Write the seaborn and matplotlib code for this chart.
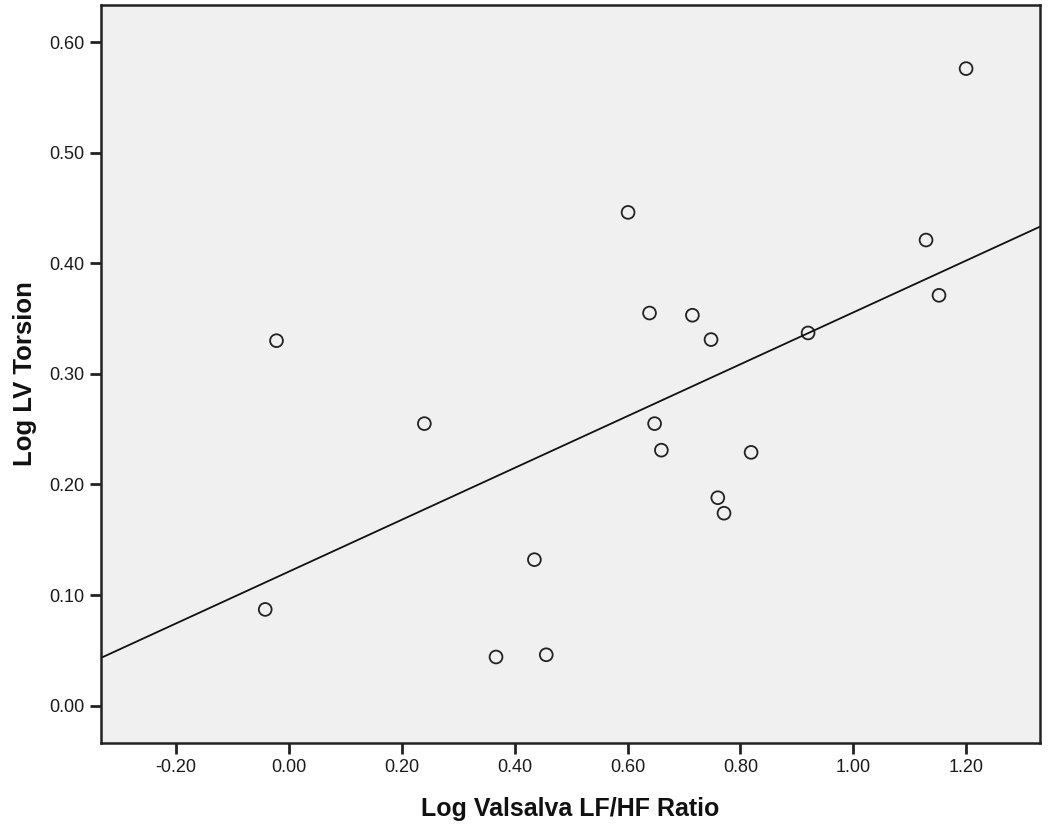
import matplotlib
matplotlib.use('Agg')
import matplotlib.pyplot as plt
import pandas as pd
import seaborn as sns
from matplotlib.ticker import FormatStrFormatter, MultipleLocator

# Data
log_valsalva_lfhf = [-0.042, -0.022, 0.240, 0.367, 0.456, 0.435, 0.601, 0.639, 0.648, 0.660,
                     0.715, 0.748, 0.760, 0.771, 0.819, 0.920, 1.129, 1.152, 1.200]
log_lv_torsion = [0.087, 0.330, 0.255, 0.044, 0.046, 0.132, 0.446, 0.355, 0.255, 0.231,
                  0.353, 0.331, 0.188, 0.174, 0.229, 0.337, 0.421, 0.371, 0.576]

df = pd.DataFrame({'x': log_valsalva_lfhf, 'y': log_lv_torsion})

sns.set_style('ticks')
plt.rcParams['font.family'] = ['Liberation Sans', 'DejaVu Sans']

fig = plt.figure(figsize=(10.5, 8.36), dpi=100)
ax = fig.add_axes([0.0962, 0.1116, 0.8943, 0.8824])
ax.set_facecolor('#f0f0f0')

ax.set_xlim(-0.333, 1.331)
ax.set_ylim(-0.0335, 0.6335)

# Scatter points as open circles
sns.scatterplot(data=df, x='x', y='y', ax=ax, s=85, marker='o',
                facecolors='none', edgecolor='#222222', linewidth=1.3)

# OLS fit line across the full axis
sns.regplot(data=df, x='x', y='y', ax=ax, scatter=False, ci=None, truncate=False,
            line_kws={'color': '#111111', 'linewidth': 1.3})

ax.set_xlim(-0.333, 1.331)
ax.set_ylim(-0.0335, 0.6335)

ax.xaxis.set_major_locator(MultipleLocator(0.2))
ax.yaxis.set_major_locator(MultipleLocator(0.1))
ax.xaxis.set_major_formatter(FormatStrFormatter('%.2f'))
ax.yaxis.set_major_formatter(FormatStrFormatter('%.2f'))

for side in ['left', 'right', 'top', 'bottom']:
    ax.spines[side].set_visible(True)
    ax.spines[side].set_color('#222222')
    ax.spines[side].set_linewidth(1.8)

ax.tick_params(axis='both', direction='out', length=8, width=2, color='#222222',
               labelsize=13, labelcolor='#1a1a1a', pad=4)

ax.set_xlabel('Log Valsalva LF/HF Ratio', fontsize=18, fontweight='bold', labelpad=15,
              color='#111111')
ax.set_ylabel('Log LV Torsion', fontsize=18.5, fontweight='bold', labelpad=9,
              color='#111111')

fig.savefig('out.png', dpi=100)
